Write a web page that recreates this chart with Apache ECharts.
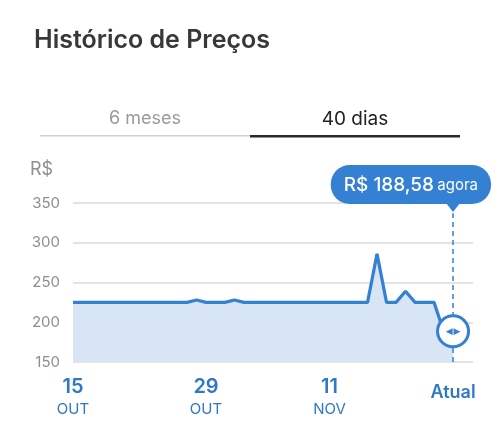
<!DOCTYPE html>
<html>
<head>
<meta charset="utf-8">
<script src="https://cdn.jsdelivr.net/npm/echarts@6/dist/echarts.min.js"></script>
<style>
  html, body { margin: 0; padding: 0; background: #fff; }
  #chart { width: 500px; height: 431px; }
</style>
</head>
<body>
<div id="chart"></div>
<script>
// days since 15 OUT, price in R$
const days = [0, 12, 13, 14, 16, 17, 18, 31, 32, 33, 34, 35, 36, 38, 39, 40];
const prices = [225, 225, 228, 225, 225, 228, 225, 225, 286, 225, 225, 239, 225, 225, 189, 188.58];
const tickDays = [0, 14, 27, 40];
const tickDay = ["15", "29", "11", ""];
const tickMonth = ["OUT", "OUT", "NOV", ""];
const yTicks = [150, 200, 250, 300, 350];
const lastLabel = "Atual";
const currentText = "R$ 188,58";

const BLUE = "#3480d3";
const FONT = "Inter, Roboto, sans-serif";

const chart = echarts.init(document.getElementById("chart"));
const lastDay = days[days.length - 1];
const lastPrice = prices[prices.length - 1];

const option = {
  animation: false,
  textStyle: { fontFamily: FONT },
  grid: { left: 73, right: 27, top: 203, bottom: 69 },
  xAxis: {
    type: "value",
    min: 0,
    max: 42.1,
    axisLine: { show: false },
    axisTick: { show: false },
    splitLine: { show: false },
    axisLabel: {
      customValues: tickDays,
      margin: 13,
      formatter: (v) => {
        const i = tickDays.indexOf(v);
        if (i === tickDays.length - 1) return "{a|" + lastLabel + "}";
        return "{d|" + tickDay[i] + "}\n{m|" + tickMonth[i] + "}";
      },
      rich: {
        d: { fontSize: 20, fontWeight: 600, color: "#2f78c8", lineHeight: 24, fontFamily: FONT },
        m: { fontSize: 15, color: "#2f78c8", lineHeight: 20, fontFamily: FONT },
        a: { fontSize: 18, fontWeight: 600, color: "#2f78c8", lineHeight: 36, fontFamily: FONT }
      }
    }
  },
  yAxis: {
    type: "value",
    min: yTicks[0],
    max: yTicks[yTicks.length - 1],
    interval: 50,
    axisLine: { show: false },
    axisTick: { show: false },
    axisLabel: { color: "#8e8e93", fontSize: 15, margin: 13 },
    splitLine: { lineStyle: { color: "#dadada", width: 1.5 } }
  },
  series: [
    {
      type: "line",
      data: days.map((d, i) => [d, prices[i]]),
      symbol: "none",
      clip: false,
      lineStyle: { color: BLUE, width: 3.2 },
      areaStyle: { color: "#d8e5f4", opacity: 1 },
      markLine: {
        silent: true,
        symbol: "none",
        label: { show: false },
        lineStyle: { color: BLUE, type: [5, 4], width: 1.5 },
        data: [[{ coord: [lastDay, 150] }, { coord: [lastDay, 337] }]]
      },
      markPoint: {
        silent: true,
        symbol: "circle",
        symbolSize: 31,
        itemStyle: { color: "#fff", borderColor: BLUE, borderWidth: 3 },
        label: {
          show: true,
          formatter: "◀\u200a▶",
          color: BLUE,
          fontSize: 9,
          fontFamily: "DejaVu Sans"
        },
        data: [{ coord: [lastDay, lastPrice] }]
      }
    }
  ]
};

chart.setOption(option);

const anchor = chart.convertToPixel({ gridIndex: 0 }, [lastDay, 350]);

chart.setOption({
  graphic: [
    {
      type: "text",
      left: 34,
      top: 28,
      style: { text: "Histórico de Preços", font: "600 25px " + FONT, fill: "#383838" }
    },
    {
      type: "text",
      x: 145,
      y: 119,
      style: { text: "6 meses", font: "18px " + FONT, fill: "#9a9a9a", align: "center", verticalAlign: "middle" }
    },
    {
      type: "text",
      x: 355,
      y: 119,
      style: { text: "40 dias", font: "19px " + FONT, fill: "#222", align: "center", verticalAlign: "middle" }
    },
    {
      type: "rect",
      shape: { x: 40, y: 135, width: 210, height: 1.5 },
      style: { fill: "#cfcfcf" }
    },
    {
      type: "rect",
      shape: { x: 250, y: 135, width: 210, height: 2.5 },
      style: { fill: "#2b2b2b" }
    },
    {
      type: "text",
      x: 30,
      y: 170,
      style: { text: "R$", font: "18px " + FONT, fill: "#8e8e93", verticalAlign: "middle" }
    },
    {
      type: "polygon",
      z: 10,
      shape: { points: [[anchor[0] - 7, anchor[1]], [anchor[0] + 7, anchor[1]], [anchor[0], anchor[1] + 9]] },
      style: { fill: BLUE }
    },
    {
      type: "text",
      z: 10,
      x: anchor[0] + 38,
      y: anchor[1] + 1,
      style: {
        text: "{v|" + currentText + "} {u|agora}",
        align: "right",
        verticalAlign: "bottom",
        backgroundColor: BLUE,
        borderRadius: 19,
        padding: [9, 13, 8, 13],
        rich: {
          v: { fontSize: 19, fontWeight: 500, fill: "#fff", fontFamily: FONT, lineHeight: 22 },
          u: { fontSize: 15, fill: "#fff", fontFamily: FONT, lineHeight: 22 }
        }
      }
    }
  ]
});
</script>
</body>
</html>
